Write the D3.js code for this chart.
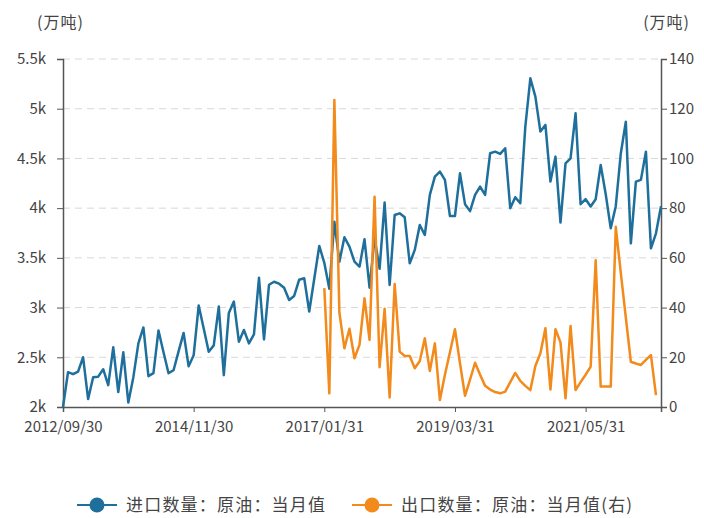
<!DOCTYPE html>
<html>
<head>
<meta charset="utf-8">
<script src="https://cdn.jsdelivr.net/npm/d3@7"></script>
<style>
  body { margin: 0; background: #fff; }
  text { font-family: "Noto Sans CJK SC", "Noto Sans", sans-serif; }
</style>
</head>
<body>
<div id="chart"></div>
<script>
// monthly data, 2012/09 .. 2022/08
var startYear = 2012, startMonth = 9;

var importVals = [
  2000, 2350, 2330, 2355, 2500, 2080, 2300, 2305, 2380, 2220,
  2600, 2150, 2550, 2045, 2300, 2640, 2800, 2310, 2340, 2770,
  2550, 2340, 2370, 2560, 2745, 2410, 2520, 3020, 2790, 2556,
  2620, 3010, 2320, 2945, 3060, 2657, 2775, 2640, 2730, 3300,
  2680, 3230, 3260, 3240, 3200, 3076, 3117, 3280, 3295, 2960,
  3290, 3620, 3450, 3190, 3864, 3462, 3707, 3613, 3462, 3411,
  3687, 3200, 3700, 3390, 4056, 3227, 3931, 3948, 3908, 3445,
  3580, 3830, 3730, 4133, 4317, 4367, 4284, 3921, 3921, 4350,
  4040, 3970, 4133, 4216, 4133, 4552, 4568, 4545, 4602, 3999,
  4110, 4049, 4820, 5306, 5122, 4770, 4837, 4267, 4518, 3855,
  4451, 4500, 4954, 4040, 4090, 4016, 4090, 4435, 4140, 3797,
  4020, 4550, 4870, 3646, 4267, 4284, 4568, 3596, 3747, 4020
];

// export starts 2017/01 (index 52), ends 2022/07
var exportVals = [
  47.8, 5.5, 123.5, 38, 23.6, 31.5, 19.6, 25, 43.7, 27,
  84.6, 16, 39.5, 3.8, 49.5, 22.3, 20.5, 20.5, 15.6, 18.5,
  27.6, 14.5, 25.6, 2.8, 13, 22, 31.3, 17.6, 4.5, 11,
  17.8, 13, 8.5, 7, 6, 5.5, 6.2, 10, 13.7, 10.5,
  8.5, 6.8, 16.5, 21.6, 31.7, 7, 31.3, 26, 3.5, 32.6,
  6.8, 10, 13, 16.2, 59, 8.2, 8.2, 8.2, 72.5, 54,
  36, 18.2, 17.5, 16.9, 19, 20.9, 4.8
];
var exportStart = 52;

var leftTicks = [2000, 2500, 3000, 3500, 4000, 4500, 5000, 5500];
var leftTickLabels = ["2k", "2.5k", "3k", "3.5k", "4k", "4.5k", "5k", "5.5k"];
var rightTicks = [0, 20, 40, 60, 80, 100, 120, 140];
var xTickEvery = 26;

var seriesNames = ["进口数量：原油：当月值", "出口数量：原油：当月值(右)"];
var unitLabel = "(万吨)";
var colors = ["#1f6f9c", "#f28a1c"];

function monthEnd(i) {
  var y = startYear + Math.floor((startMonth - 1 + i) / 12);
  var m = (startMonth - 1 + i) % 12 + 1;
  var d = new Date(y, m, 0).getDate();
  return y + "/" + String(m).padStart(2, "0") + "/" + String(d).padStart(2, "0");
}
var dates = importVals.map(function(d, i) { return monthEnd(i); });

var width = 704, height = 518;
var margin = {top: 59, right: 43, bottom: 111, left: 63};
var w = width - margin.left - margin.right,
    h = height - margin.top - margin.bottom;

var svg = d3.select("#chart").append("svg")
  .attr("width", width).attr("height", height);
var g = svg.append("g")
  .attr("transform", "translate(" + margin.left + "," + margin.top + ")");

var x = d3.scalePoint().domain(dates).range([0, w]);
var yL = d3.scaleLinear().domain([2000, 5500]).range([h, 0]);
var yR = d3.scaleLinear().domain([0, 140]).range([h, 0]);

// grid
g.selectAll(".grid").data(leftTicks.slice(1)).join("line")
  .attr("x1", 0).attr("x2", w)
  .attr("y1", function(d) { return yL(d); }).attr("y2", function(d) { return yL(d); })
  .attr("stroke", "#d9d9d9").attr("stroke-dasharray", "7,5").attr("stroke-width", 1);

var axisColor = "#555", labelColor = "#444";

// left axis
var leftAxis = g.append("g")
  .call(d3.axisLeft(yL).tickValues(leftTicks).tickSize(6).tickPadding(11)
    .tickFormat(function(d, i) { return leftTickLabels[i]; }));
// right axis
var rightAxis = g.append("g").attr("transform", "translate(" + w + ",0)")
  .call(d3.axisRight(yR).tickValues(rightTicks).tickSize(6).tickPadding(2));
// x axis
var xAxis = g.append("g").attr("transform", "translate(0," + h + ")")
  .call(d3.axisBottom(x)
    .tickValues(dates.filter(function(d, i) { return i % xTickEvery === 0; }))
    .tickSize(5).tickPadding(9));

[leftAxis, rightAxis, xAxis].forEach(function(a) {
  a.select(".domain").attr("stroke", axisColor).attr("stroke-width", 1.5);
  a.selectAll(".tick line").attr("stroke", axisColor);
  a.selectAll(".tick text").attr("fill", labelColor).style("font-size", "15px")
    .style("font-family", "'Noto Sans CJK SC', sans-serif");
});

// lines
var lineL = d3.line()
  .x(function(d, i) { return x(dates[i]); })
  .y(function(d) { return yL(d); });
var lineR = d3.line()
  .x(function(d, i) { return x(dates[i + exportStart]); })
  .y(function(d) { return yR(d); });

g.append("path").datum(importVals)
  .attr("d", lineL).attr("fill", "none")
  .attr("stroke", colors[0]).attr("stroke-width", 2.5).attr("stroke-linejoin", "round");
g.append("path").datum(exportVals)
  .attr("d", lineR).attr("fill", "none")
  .attr("stroke", colors[1]).attr("stroke-width", 2.5).attr("stroke-linejoin", "round");

// unit labels
svg.append("text").attr("x", 37).attr("y", 28).text(unitLabel)
  .attr("fill", labelColor).style("font-size", "16px").style("letter-spacing", "1px");
svg.append("text").attr("x", 690).attr("y", 28).attr("text-anchor", "end").text(unitLabel)
  .attr("fill", labelColor).style("font-size", "16px").style("letter-spacing", "1px");

// legend
var legendX = [77, 352];
var leg = svg.selectAll(".legend").data(seriesNames).join("g")
  .attr("transform", function(d, i) { return "translate(" + legendX[i] + ",505)"; });
leg.append("line").attr("x1", 0).attr("x2", 40).attr("y1", 0).attr("y2", 0)
  .attr("stroke", function(d, i) { return colors[i]; }).attr("stroke-width", 2);
leg.append("circle").attr("cx", 20).attr("cy", 0).attr("r", 7.5)
  .attr("fill", function(d, i) { return colors[i]; });
leg.append("text").attr("x", 49).attr("y", 0).attr("dy", "0.35em")
  .text(function(d) { return d; })
  .attr("fill", labelColor).style("font-size", "17px").style("letter-spacing", "1.2px");
</script>
</body>
</html>
